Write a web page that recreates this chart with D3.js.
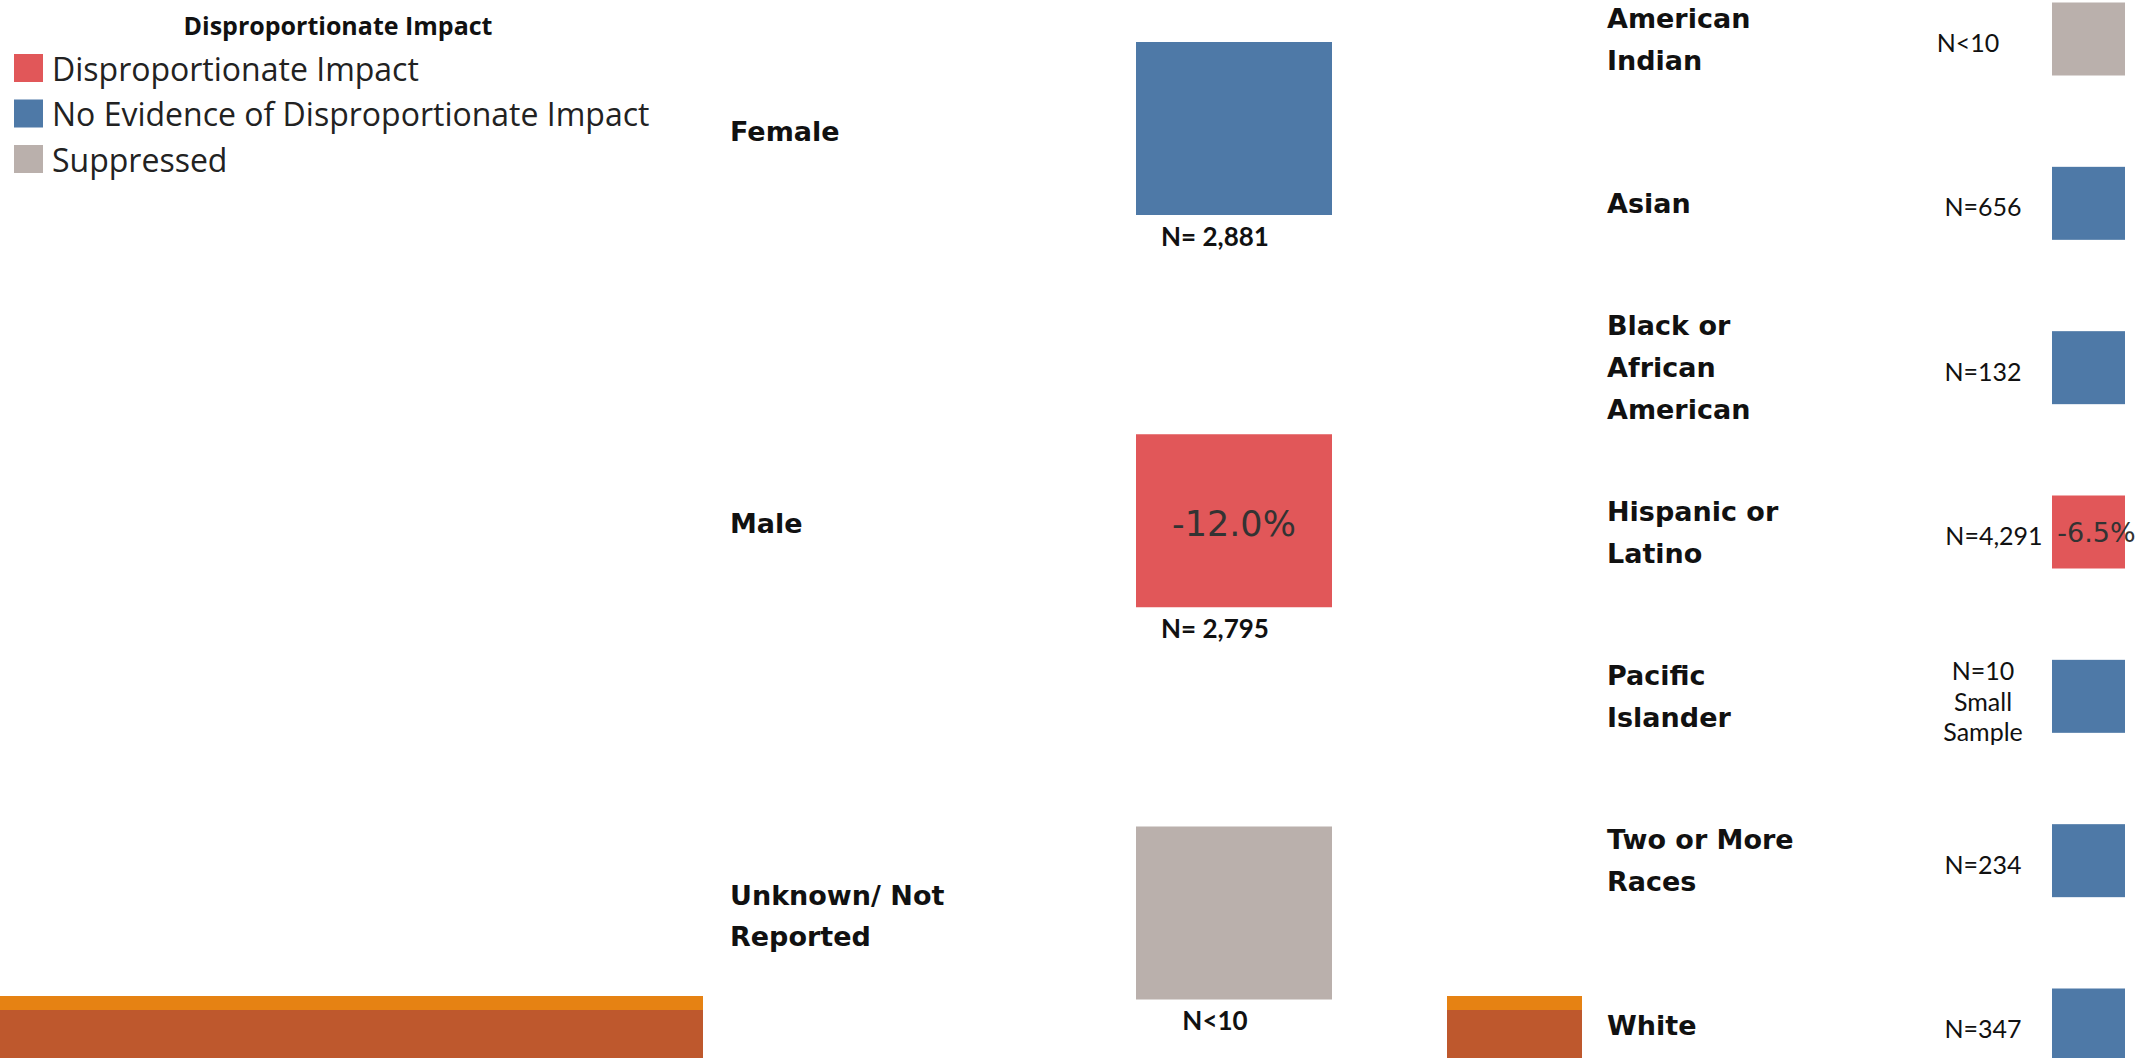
<!DOCTYPE html>
<html>
<head>
<meta charset="utf-8">
<script src="https://cdn.jsdelivr.net/npm/d3@7"></script>
<style>
  html, body { margin: 0; padding: 0; background: #fff; }
  svg { display: block; }
</style>
</head>
<body>
<svg id="chart" width="2148" height="1058"></svg>
<script>
// legend
var legendTitle = "Disproportionate Impact";
var statusKeys = ["Disproportionate Impact", "No Evidence of Disproportionate Impact", "Suppressed"];
var statusColors = ["#E15759", "#4E79A7", "#BAB0AC"];

// gender panel
var genderLabels = [["Female"], ["Male"], ["Unknown/ Not", "Reported"]];
var genderStatus = ["No Evidence of Disproportionate Impact", "Disproportionate Impact", "Suppressed"];
var genderN = ["N= 2,881", "N= 2,795", "N<10"];
var genderGap = [null, -12.0, null];

// race panel
var raceLabels = [["American", "Indian"], ["Asian"], ["Black or", "African", "American"], ["Hispanic or", "Latino"],
                  ["Pacific", "Islander"], ["Two or More", "Races"], ["White"]];
var raceStatus = ["Suppressed", "No Evidence of Disproportionate Impact", "No Evidence of Disproportionate Impact",
                  "Disproportionate Impact", "No Evidence of Disproportionate Impact",
                  "No Evidence of Disproportionate Impact", "No Evidence of Disproportionate Impact"];
var raceN = [["N<10"], ["N=656"], ["N=132"], ["N=4,291"], ["N=10", "Small", "Sample"], ["N=234"], ["N=347"]];
var raceGap = [null, null, null, -6.5, null, null, null];

var svg = d3.select("#chart");

var color = d3.scaleOrdinal().domain(statusKeys).range(statusColors);
// plain hyphen for the minus sign, like the original
var loc = d3.formatLocale({decimal: ".", thousands: ",", grouping: [3], currency: ["$", ""], minus: "-"});
var fmtGap = function(v) { return loc.format(".1f")(v) + "%"; };

var labelFont = "'DejaVu Sans', sans-serif";
var nFont = "Lato, sans-serif";

// ---- legend
var leg = svg.append("g").attr("class", "legend");
leg.append("text")
    .attr("x", 338).attr("y", 25)
    .attr("text-anchor", "middle").attr("dominant-baseline", "central")
    .attr("font-family", "'Open Sans', sans-serif").attr("font-weight", "bold").attr("font-size", 25)
    .attr("fill", "#111")
    .text(legendTitle);

var legY = d3.scalePoint().domain(statusKeys).range([68, 159]);
var li = leg.selectAll("g.item").data(statusKeys).enter().append("g").attr("class", "item");
li.append("rect")
    .attr("x", 14).attr("y", function(d) { return legY(d) - 14; })
    .attr("width", 29).attr("height", 28)
    .attr("fill", function(d) { return color(d); });
li.append("text")
    .attr("x", 52).attr("y", function(d) { return legY(d); })
    .attr("dominant-baseline", "central")
    .attr("font-family", "'Open Sans', sans-serif").attr("font-size", 32)
    .attr("fill", "#222")
    .text(function(d) { return d; });

// ---- gender panel
var gIdx = d3.range(genderLabels.length);
var gy = d3.scalePoint().domain(gIdx).range([128.5, 913]);
var gBoxX = 1136, gBoxW = 196, gBoxH = 173;

var gp = svg.append("g").attr("class", "gender");
var gRow = gp.selectAll("g.row").data(gIdx).enter().append("g").attr("class", "row");

gRow.append("rect")
    .attr("x", gBoxX).attr("y", function(i) { return gy(i) - gBoxH / 2; })
    .attr("width", gBoxW).attr("height", gBoxH)
    .attr("fill", function(i) { return color(genderStatus[i]); });

gRow.each(function(i) {
  var lines = genderLabels[i];
  d3.select(this).selectAll("text.lab").data(lines).enter().append("text")
      .attr("class", "lab")
      .attr("x", 730)
      .attr("y", function(d, j) { return gy(i) + 3 + (j - (lines.length - 1) / 2) * 41; })
      .attr("dominant-baseline", "central")
      .attr("font-family", labelFont).attr("font-weight", "bold").attr("font-size", 27)
      .attr("fill", "#111")
      .text(function(d) { return d; });
});

gRow.append("text")
    .attr("x", gBoxX + gBoxW / 2 - 19).attr("y", function(i) { return gy(i) + 107; })
    .attr("text-anchor", "middle").attr("dominant-baseline", "central")
    .attr("font-family", nFont).attr("font-weight", "bold").attr("font-size", 26)
    .attr("fill", "#111")
    .text(function(i) { return genderN[i]; });

gRow.filter(function(i) { return genderGap[i] !== null; }).append("text")
    .attr("x", gBoxX + gBoxW / 2).attr("y", function(i) { return gy(i) + 3; })
    .attr("text-anchor", "middle").attr("dominant-baseline", "central")
    .attr("font-family", labelFont).attr("font-size", 35)
    .attr("fill", "#333")
    .text(function(i) { return fmtGap(genderGap[i]); });

// ---- race panel
var rIdx = d3.range(raceLabels.length);
var ry = d3.scalePoint().domain(rIdx).range([39, 1025]);
var rBoxX = 2052, rBoxW = 73, rBoxH = 73;

var rp = svg.append("g").attr("class", "race");
var rRow = rp.selectAll("g.row").data(rIdx).enter().append("g").attr("class", "row");

rRow.append("rect")
    .attr("x", rBoxX).attr("y", function(i) { return ry(i) - rBoxH / 2; })
    .attr("width", rBoxW).attr("height", rBoxH)
    .attr("fill", function(i) { return color(raceStatus[i]); });

rRow.each(function(i) {
  var lines = raceLabels[i];
  d3.select(this).selectAll("text.lab").data(lines).enter().append("text")
      .attr("class", "lab")
      .attr("x", 1607)
      .attr("y", function(d, j) { return ry(i) + (j - (lines.length - 1) / 2) * 42; })
      .attr("dominant-baseline", "central")
      .attr("font-family", labelFont).attr("font-weight", "bold").attr("font-size", 27)
      .attr("fill", "#111")
      .text(function(d) { return d; });

  var nl = raceN[i];
  var nx = nl[0].length > 6 ? 1994 : (nl[0].indexOf("<") >= 0 ? 1968 : 1983);
  d3.select(this).selectAll("text.n").data(nl).enter().append("text")
      .attr("class", "n")
      .attr("x", nx)
      .attr("y", function(d, j) { return nl.length > 1 ? ry(i) - 26 + j * 30.5 : ry(i) + 3; })
      .attr("text-anchor", "middle").attr("dominant-baseline", "central")
      .attr("font-family", nFont).attr("font-size", 25)
      .attr("fill", "#111")
      .text(function(d) { return d; });
});

rRow.filter(function(i) { return raceGap[i] !== null; }).append("text")
    .attr("x", rBoxX + rBoxW / 2 + 8).attr("y", function(i) { return ry(i); })
    .attr("text-anchor", "middle").attr("dominant-baseline", "central")
    .attr("font-family", labelFont).attr("font-size", 27)
    .attr("fill", "#333")
    .text(function(i) { return fmtGap(raceGap[i]); });

// ---- slide footer bars
var footer = svg.append("g").attr("class", "footer");
[[0, 703], [1447, 1582]].forEach(function(b) {
  footer.append("rect").attr("x", b[0]).attr("y", 996).attr("width", b[1] - b[0]).attr("height", 14).attr("fill", "#E68213");
  footer.append("rect").attr("x", b[0]).attr("y", 1010).attr("width", b[1] - b[0]).attr("height", 48).attr("fill", "#BE582D");
});
</script>
</body>
</html>
